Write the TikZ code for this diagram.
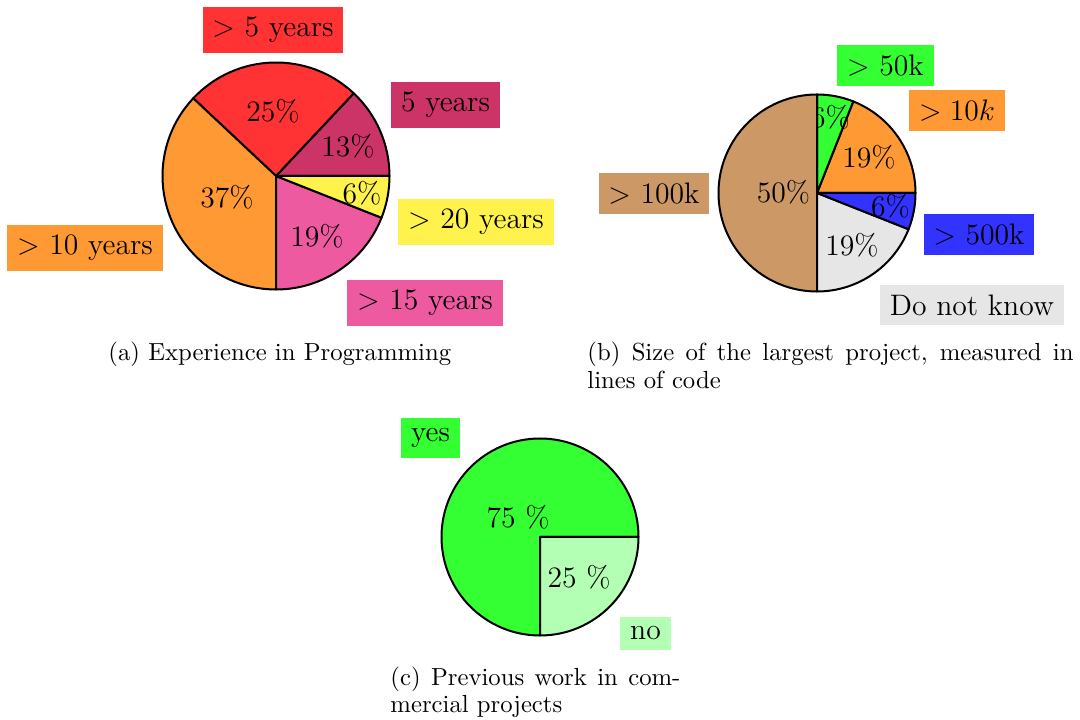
\documentclass[tikz,border=0pt]{standalone}
\definecolor{cRed}{RGB}{255,51,51}
\definecolor{cPlum}{RGB}{204,51,102}
\definecolor{cOrange}{RGB}{255,153,51}
\definecolor{cPink}{RGB}{238,90,160}
\definecolor{cYellow}{RGB}{255,242,77}
\definecolor{cGreen}{RGB}{51,255,51}
\definecolor{cBlue}{RGB}{51,51,255}
\definecolor{cBrown}{RGB}{204,153,102}
\definecolor{cGrey}{RGB}{230,230,230}
\definecolor{cMint}{RGB}{179,255,179}

% one wedge: centre, radius, start angle, end angle, fill colour
\newcommand\drawwedge[5]{%
  \filldraw[wedge=#5] (#1) -- ++(#3:#2) arc[start angle=#3, end angle=#4, radius=#2] -- cycle;}

\tikzset{
  wedge/.style={fill=#1, draw=black, line width=2pt, line join=round},
  pct/.style={anchor=base, inner sep=0pt, scale=2.47, font=\large},
  tag/.style={fill=#1, inner sep=4pt, scale=2.47, font=\large},
  captext/.style={anchor=base west, inner sep=0pt, scale=2.47, font=\normalsize},
}

\begin{document}
\begin{tikzpicture}[x=1pt, y=1pt]
\useasboundingbox (0,0) rectangle (1080,720);

% ---------- (a) experience in programming ----------
\coordinate (pa) at (276,544);
\drawwedge{pa}{113.5}{0}{46.8}{cPlum}
\node[pct] (a13) at (348,563) {13\%};
\drawwedge{pa}{113.5}{46.8}{136.8}{cRed}
\node[pct] (a25) at (273,598) {25\%};
\drawwedge{pa}{113.5}{136.8}{270}{cOrange}
\node[pct] (a37) at (227,512) {37\%};
\drawwedge{pa}{113.5}{270}{338.4}{cPink}
\node[pct] (a19) at (317,473.5) {19\%};
\drawwedge{pa}{113.5}{338.4}{360}{cYellow}
\node[pct] (a6) at (362,516) {6\%};

\node[tag=cRed]    (la1) at (273,690)   {$>$ 5 years};
\node[tag=cPlum]   (la2) at (445.5,615) {5 years};
\node[tag=cOrange] (la3) at (85,472)    {$>$ 10 years};
\node[tag=cPink]   (la4) at (425,417)   {$>$ 15 years};
\node[tag=cYellow] (la5) at (476,498)   {$>$ 20 years};

% ---------- (b) size of the largest project ----------
\coordinate (pb) at (817,527);
\drawwedge{pb}{98.5}{0}{68.4}{cOrange}
\node[pct] (b19o) at (869,552) {19\%};
\drawwedge{pb}{98.5}{68.4}{90}{cGreen}
\node[pct] (b6g) at (830.5,592) {6\%};
\drawwedge{pb}{98.5}{90}{270}{cBrown}
\node[pct] (b50) at (783.5,517) {50\%};
\drawwedge{pb}{98.5}{270}{338.4}{cGrey}
\node[pct] (b19g) at (852,464) {19\%};
\drawwedge{pb}{98.5}{338.4}{360}{cBlue}
\node[pct] (b6b) at (890.5,503) {6\%};

\node[tag=cGreen]  (lb1) at (885.5,654.5) {$>$ 50k};
\node[tag=cOrange] (lb2) at (957,609.5)   {$>10k$};
\node[tag=cBrown]  (lb3) at (654,526.5)   {$>$ 100k};
\node[tag=cBlue]   (lb4) at (979,485.5)   {$>$ 500k};
\node[tag=cGrey]   (lb5) at (972,415)     {Do not know};

% ---------- (c) previous commercial work ----------
\coordinate (pc) at (540,183);
\drawwedge{pc}{98.5}{0}{270}{cGreen}
\node[pct] (c75) at (518,192) {75 \%};
\drawwedge{pc}{98.5}{270}{360}{cMint}
\node[pct] (c25) at (579,132) {25 \%};

\node[tag=cGreen] (lc1) at (430.5,282) {yes};
\node[tag=cMint]  (lc2) at (645.5,86.5) {no};

% ---------- captions ----------
\node[captext] (capa) at (108,359) {(a) Experience in Programming};
\node[captext] (capb1) at (587,359) {\makebox[196.8pt][s]{(b) Size of the largest project, measured in}};
\node[captext] (capb2) at (587,331.7) {lines of code};
\node[captext] (capc1) at (390,34) {\makebox[117.4pt][s]{(c) Previous work in com-}};
\node[captext] (capc2) at (390,7.3) {mercial projects};
\end{tikzpicture}
\end{document}
